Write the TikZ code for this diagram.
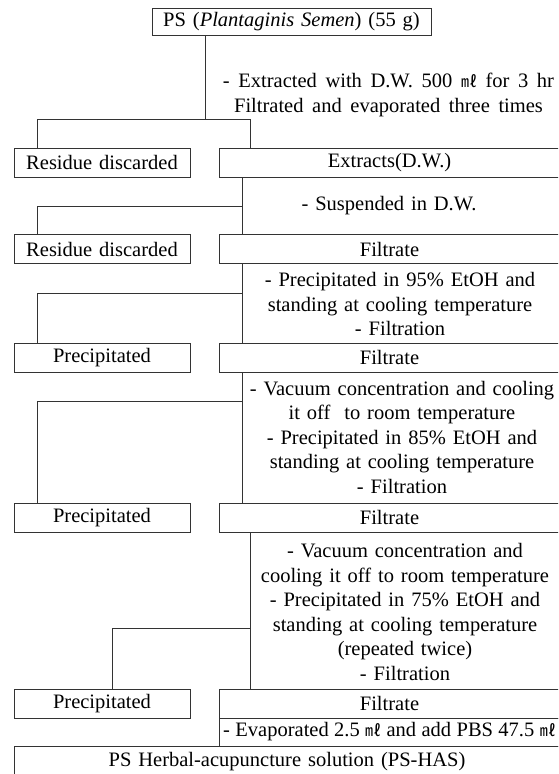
\documentclass[tikz,border=0pt]{standalone}
\usepackage{fontspec}
\setmainfont[WordSpace=1.35]{Liberation Serif}
\newfontfamily\cjk{Noto Sans CJK KR}
\newcommand{\mlunit}{{\cjk\fontsize{16}{16}\selectfont ㎖}}
\newcommand{\widespace}{\spaceskip=8.6pt plus 2pt minus 1pt\relax}
\newcommand{\tightspace}{\spaceskip=5.4pt plus 1pt minus 1pt\relax}

\begin{document}
\begin{tikzpicture}[x=1pt, y=-1pt, line width=0.8pt, draw=black!80,
  every node/.style={font=\fontsize{20.5}{24.5}\selectfont},
  box/.style={draw=black!80, inner sep=0pt, minimum height=29pt},
  leftbox/.style={box, minimum width=176pt},
  rightbox/.style={box, minimum width=341pt},
  note/.style={align=center, inner sep=0pt}]
\clip (0,0) rectangle (558,774);

\node[box, minimum width=279pt, minimum height=27pt] (ps) at (291.5,21.5) {PS (\textit{Plantaginis Semen}) (55 g)};
\node[note, font={\fontsize{20.5}{25}\selectfont\widespace}] (step1) at (388.5,95) {- Extracted with D.W. 500 \mlunit{} for 3 hr\\ Filtrated and evaporated three times};
\node[leftbox] (res1) at (102,162.5) {Residue discarded};
\node[rightbox] (ext) at (389.5,162.5) {Extracts(D.W.)};

\node[note] (step2) at (389,206) {- Suspended in D.W.};
\node[leftbox] (res2) at (102,249) {Residue discarded};
\node[rightbox] (filt1) at (389.5,249) {Filtrate};

\node[note] (step3) at (400,304) {- Precipitated in 95\% EtOH and\\ standing at cooling temperature\\ - Filtration};
\node[leftbox] (prec1) at (102,357.5) {Precipitated};
\node[rightbox] (filt2) at (389.5,357.5) {Filtrate};

\node[note] (step4) at (402,437) {- Vacuum concentration and cooling\\ it off\ \ to room temperature\\ - Precipitated in 85\% EtOH and\\ standing at cooling temperature\\ - Filtration};
\node[leftbox] (prec2) at (102,517.5) {Precipitated};
\node[rightbox] (filt3) at (389.5,517.5) {Filtrate};

\node[note] (step5) at (405,612) {- Vacuum concentration and\\ cooling it off to room temperature\\ - Precipitated in 75\% EtOH and\\ standing at cooling temperature\\ (repeated twice)\\ - Filtration};
\node[leftbox] (prec3) at (102,703.5) {Precipitated};
\node[rightbox] (filt4) at (389.5,703.5) {Filtrate};
\node[rightbox, minimum height=28pt, font={\fontsize{20.5}{24.5}\selectfont\tightspace}] (evap) at (389.5,732) {- Evaporated 2.5 \mlunit{} and add PBS 47.5 \mlunit};
\node[box, anchor=north, minimum width=546pt, inner ysep=6pt, text height=14pt, text depth=40pt] (has) at (287,746) {PS Herbal-acupuncture solution (PS-HAS)};

\coordinate (j1) at (205,119);
\coordinate (j1l) at (37,119);
\coordinate (j1r) at (250,119);
\draw (ps.south -| j1) -- (j1);
\draw (res1.north -| j1l) -- (j1l) -- (j1r) -- (ext.north -| j1r);

\coordinate (j2) at (242,206);
\coordinate (j2l) at (37,206);
\draw (ext.south -| j2) -- (filt1.north -| j2);
\draw (j2) -- (j2l) -- (res2.north -| j2l);

\coordinate (j3) at (242,293);
\coordinate (j3l) at (37,293);
\draw (filt1.south -| j3) -- (filt2.north -| j3);
\draw (j3) -- (j3l) -- (prec1.north -| j3l);

\coordinate (j4) at (242,401);
\coordinate (j4l) at (37,401);
\draw (filt2.south -| j4) -- (filt3.north -| j4);
\draw (j4) -- (j4l) -- (prec2.north -| j4l);

\coordinate (j5) at (250,628);
\coordinate (j5l) at (112,628);
\draw (filt3.south -| j5) -- (filt4.north -| j5);
\draw (j5) -- (j5l) -- (prec3.north -| j5l);
\end{tikzpicture}
\end{document}
